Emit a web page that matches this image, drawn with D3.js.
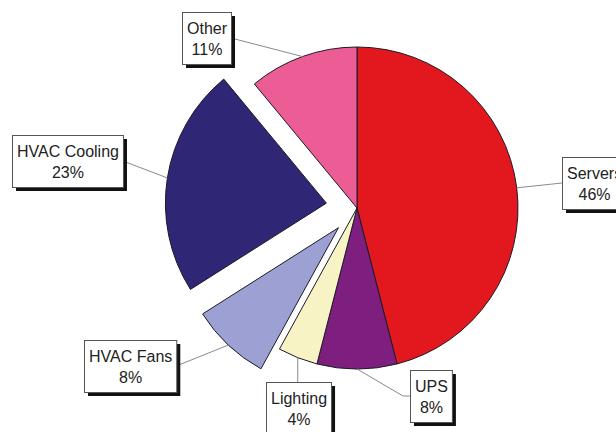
<!DOCTYPE html>
<html>
<head>
<meta charset="utf-8">
<script src="https://cdn.jsdelivr.net/npm/d3@7"></script>
<style>
  html, body { margin: 0; padding: 0; background: #fff; }
  svg { display: block; }
  text { font-family: "Liberation Sans", Arial, sans-serif; font-size: 16px; fill: #222; }
</style>
</head>
<body>
<svg id="chart" width="616" height="432"></svg>
<script>
// Data-centre energy use by end use (share of total, %)
const categories = ["Servers", "UPS", "Lighting", "HVAC Fans", "HVAC Cooling", "Other"];
const shares = [46, 8, 4, 8, 23, 11];
const pctLabels = ["46%", "8%", "4%", "8%", "23%", "11%"];

// Styling and layout
const colors = ["#E3181F", "#7E1F7F", "#F7F3C4", "#9DA0D2", "#2F2775", "#EC5C95"];
const explode = [0, 0, 0, 27, 31, 0];
// Top-left corner of each label box and where its leader attaches
const labelBoxes = [
  { x: 562, y: 157, side: "left" },
  { x: 410, y: 370, side: "left", elbow: 403 },
  { x: 266, y: 382, side: "top" },
  { x: 84,  y: 340, side: "right" },
  { x: 12,  y: 135, side: "right" },
  { x: 182, y: 12,  side: "right" }
];

const cx = 357, cy = 208, R = 161;
const svg = d3.select("#chart");

const pie = d3.pie().sort(null).value(d => d)(shares);
const arc = d3.arc().innerRadius(0).outerRadius(R);
const edge = d3.arc().innerRadius(R).outerRadius(R);

const offsets = pie.map((p, i) => {
  const mid = (p.startAngle + p.endAngle) / 2;
  return [Math.sin(mid) * explode[i], -Math.cos(mid) * explode[i]];
});

const g = svg.append("g").attr("transform", `translate(${cx},${cy})`);

// Leader lines (drawn under the slices)
const leaders = svg.append("g");
const boxes = svg.append("g");

g.selectAll("path.slice")
  .data(pie)
  .join("path")
  .attr("class", "slice")
  .attr("transform", (d, i) => `translate(${offsets[i][0]},${offsets[i][1]})`)
  .attr("d", arc)
  .attr("fill", (d, i) => colors[i])
  .attr("stroke", "#1b1b28")
  .attr("stroke-width", 1)
  .attr("stroke-linejoin", "round");

pie.forEach((p, i) => {
  const b = labelBoxes[i];
  const lg = boxes.append("g");
  const t1 = lg.append("text")
    .attr("text-anchor", "middle")
    .text(categories[i]);
  const t2 = lg.append("text")
    .attr("text-anchor", "middle")
    .text(pctLabels[i]);
  const w = Math.max(t1.node().getComputedTextLength(), t2.node().getComputedTextLength()) + 9;
  const h = 52;
  lg.insert("rect", "text")
    .attr("x", b.x + 4).attr("y", b.y + 4)
    .attr("width", w).attr("height", h)
    .attr("fill", "#111");
  lg.insert("rect", "text")
    .attr("x", b.x + 0.5).attr("y", b.y + 0.5)
    .attr("width", w).attr("height", h)
    .attr("fill", "#fff")
    .attr("stroke", "#555")
    .attr("stroke-width", 1);
  t1.attr("x", b.x + w / 2 + 0.5).attr("y", b.y + 22);
  t2.attr("x", b.x + w / 2 + 0.5).attr("y", b.y + 43);

  const c = edge.centroid(p);
  const ax = cx + c[0] + offsets[i][0];
  const ay = cy + c[1] + offsets[i][1];
  let px, py;
  if (b.side === "left") { px = b.x; py = b.y + h / 2; }
  else if (b.side === "right") { px = b.x + w; py = b.y + h / 2; }
  else { px = ax; py = b.y; }
  const pts = [[ax, ay]];
  if (b.elbow !== undefined) pts.push([b.elbow, py]);
  pts.push([px, py]);
  leaders.append("path")
    .attr("d", d3.line()(pts))
    .attr("fill", "none")
    .attr("stroke", "#8a8a8a")
    .attr("stroke-width", 1);
});
</script>
</body>
</html>
